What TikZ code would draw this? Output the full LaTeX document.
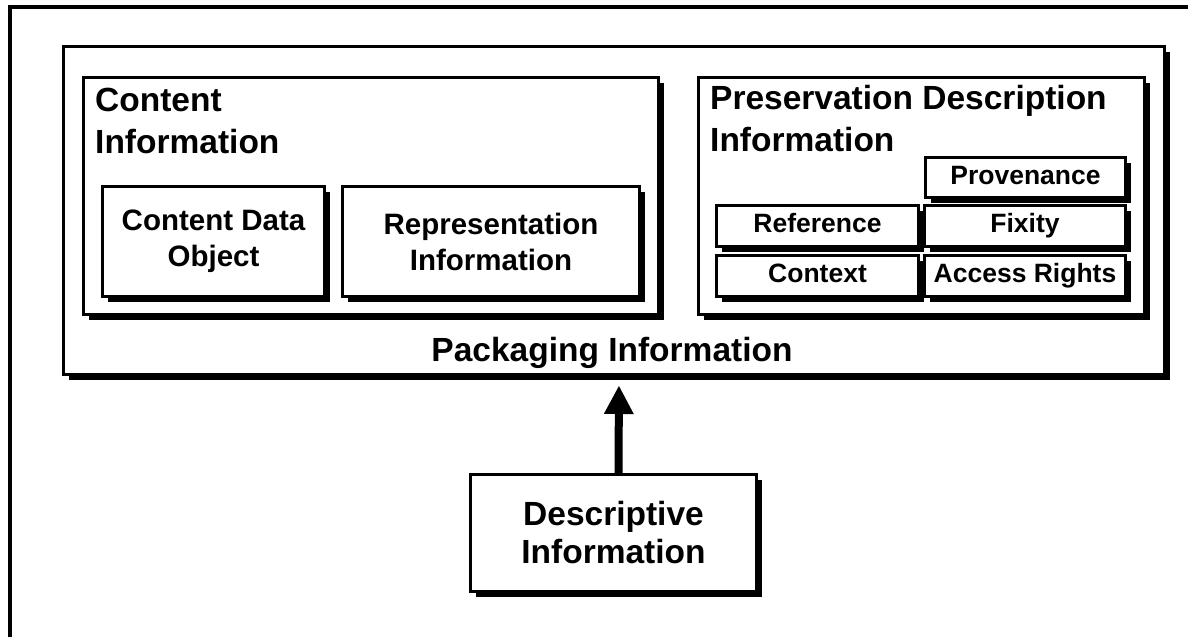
\documentclass[tikz,border=0pt]{standalone}
\usepackage{fontspec}
\setmainfont{Liberation Sans}
\usetikzlibrary{arrows.meta,shadows}

\begin{document}
\begin{tikzpicture}[x=1pt, y=-1pt,
    box/.style={draw, line width=3pt, fill=white, inner sep=0pt, anchor=north west, align=center,
        general shadow={fill=black, shadow xshift=5pt, shadow yshift=-5pt}},
    headtext/.style={font=\fontsize{33.5}{42}\selectfont\bfseries, align=left, inner sep=0pt, anchor=base west},
    subtext/.style={font=\fontsize{29.5}{36}\selectfont\bfseries},
    tagtext/.style={font=\fontsize{26.5}{30}\selectfont\bfseries, text height=19pt, text depth=6pt}]
    \useasboundingbox (0,0) rectangle (1196,637);

    % Frame on the left and top edge
    \draw[line width=4pt] (10,637) -- (10,6.5) -- (1188,6.5);

    % Packaging box and its two groups
    \node[box, minimum width=1101pt, minimum height=328pt] (pack) at (62,45) {};
    \node[box, minimum width=575pt, minimum height=237pt] (ci) at (82,76) {};
    \node[box, minimum width=446pt, minimum height=237pt] (pdi) at (697,76) {};

    % Group titles (base = last line)
    \node[headtext] (cihead) at (95,153) {Content\\Information};
    \node[headtext] (pdihead) at (710,151) {Preservation Description\\Information};
    \node[headtext, anchor=base] (packhead) at (612,361) {Packaging Information};

    % Content information parts
    \node[box, subtext, minimum width=222pt, minimum height=110pt] (cdo) at (101,185) {Content Data\\Object};
    \node[box, subtext, minimum width=297pt, minimum height=110pt] (rep) at (341,185) {Representation\\Information};

    % Preservation description parts
    \node[box, tagtext, minimum width=200pt, minimum height=40pt] (prov) at (924,156) {Provenance};
    \node[box, tagtext, minimum width=202pt, minimum height=41pt] (ref) at (715,204) {Reference};
    \node[box, tagtext, minimum width=201pt, minimum height=41pt] (fix) at (923,204) {Fixity};
    \node[box, tagtext, minimum width=202pt, minimum height=41pt] (ctx) at (715,254) {Context};
    \node[box, tagtext, minimum width=201pt, minimum height=41pt] (acc) at (923,254) {Access Rights};

    % Descriptive information and its arrow
    \node[box, font=\fontsize{33.5}{38}\selectfont\bfseries, minimum width=286pt, minimum height=117pt] (desc) at (469,473) {Descriptive\\Information};
    \draw[line width=8pt, shorten >=10pt, -{Triangle[width=30pt,length=28pt,line width=0pt]}] ([xshift=5pt]desc.north) -- ([xshift=5pt]pack.south);
\end{tikzpicture}
\end{document}
